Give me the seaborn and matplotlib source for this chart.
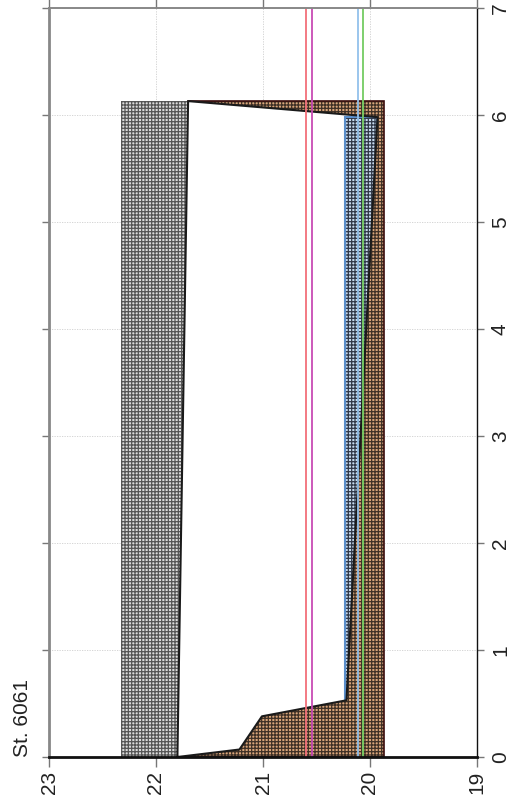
import numpy as np
import pandas as pd
import matplotlib
matplotlib.use("Agg")
import matplotlib.pyplot as plt
from matplotlib.patches import Rectangle, Polygon
import seaborn as sns

# profile loop (temperature vs. depth)
profile_temp = [21.80, 21.70, 19.93, 20.22, 21.01, 21.22, 21.80]
profile_depth = [0.00, 6.13, 5.98, 0.53, 0.38, 0.07, 0.00]

# shaded bands: (left temp, right temp, bottom, top)
gray_band = [22.33, 21.70, 0.00, 6.13]
brown_band = [21.70, 19.87, 0.00, 6.13]
blue_band = [20.23, 19.93, 0.53, 5.98]

# reference lines
ref_temps = [20.60, 20.54, 20.11, 20.07]
ref_colors = ["#f2707a", "#c84bb4", "#93c2ec", "#74cc62"]

x_ticks = [23, 22, 21, 20, 19]
y_ticks = [0, 1, 2, 3, 4, 5, 6, 7]
station = "St. 6061"

sns.set_theme(style="ticks")
plt.rcParams["font.family"] = ["Liberation Sans", "DejaVu Sans"]
plt.rcParams["hatch.linewidth"] = 0.9

fig = plt.figure(figsize=(5.13, 8.09), dpi=100)
ax = fig.add_axes([49 / 513, 52 / 809, 428 / 513, 749 / 809])

# grid
ax.grid(True, color="#cfcfcf", linestyle=(0, (1.5, 1.5)), linewidth=0.6, zorder=0)

def band(b, face, hatch_col, z, edge=None):
    r = Rectangle((b[0], b[2]), b[1] - b[0], b[3] - b[2], facecolor=face,
                  edgecolor=hatch_col, hatch="+++++", linewidth=0, zorder=z)
    ax.add_patch(r)
    if edge is not None:
        ax.add_patch(Rectangle((b[0], b[2]), b[1] - b[0], b[3] - b[2],
                               facecolor="none", edgecolor=edge, linewidth=1.2, zorder=z + 0.1))
    return r

band(brown_band, "#d9a57a", "#3e3026", 1, edge="#3a0c0c")
band(gray_band, "#dcdcdc", "#555555", 2)

poly = Polygon(np.column_stack([profile_temp, profile_depth]), closed=True,
               facecolor="white", edgecolor="none", zorder=3)
ax.add_patch(poly)

blue = band(blue_band, "#c8dcf0", "#303848", 4)
blue.set_clip_path(poly)
blue_edge = Rectangle((blue_band[0], blue_band[2]), blue_band[1] - blue_band[0],
                      blue_band[3] - blue_band[2], facecolor="none",
                      edgecolor="#5b8fcb", linewidth=1.5, zorder=4.1)
ax.add_patch(blue_edge)
blue_edge.set_clip_path(poly)

# profile outline
df = pd.DataFrame({"temp": profile_temp, "depth": profile_depth})
sns.lineplot(data=df, x="temp", y="depth", sort=False, estimator=None,
             color="#1a1a1a", linewidth=1.5, ax=ax, zorder=5)

for t, c in zip(ref_temps, ref_colors):
    ax.axvline(t, color=c, linewidth=1.3, zorder=6)

ax.set_xlim(23, 19)
ax.set_ylim(0, 7)
ax.set_xticks(x_ticks)
ax.set_yticks(y_ticks)
ax.set_xlabel("")
ax.set_ylabel("")

ax.yaxis.tick_right()
ax.tick_params(axis="both", which="both", direction="out", length=7, width=1,
               color="#777777", labelsize=15, labelcolor="#222222",
               top=True, bottom=True, left=True, right=True,
               labeltop=False, labelleft=False)
ax.tick_params(axis="x", labelrotation=90, pad=3)
ax.tick_params(axis="y", labelrotation=90, pad=5, length=5, right=True, labelright=True)
for lab in ax.get_yticklabels():
    lab.set_va("center")

ax.spines["left"].set_color("#888888")
ax.spines["left"].set_linewidth(2)
ax.spines["top"].set_color("#888888")
ax.spines["top"].set_linewidth(1.4)
ax.spines["right"].set_color("#111111")
ax.spines["right"].set_linewidth(1)
ax.spines["bottom"].set_color("#111111")
ax.spines["bottom"].set_linewidth(2)
for s in ax.spines.values():
    s.set_zorder(7)

fig.text(22 / 513, 52 / 809, station, rotation=90, ha="center", va="bottom",
         fontsize=15, color="#222222")

fig.savefig("out.png", dpi=100)
